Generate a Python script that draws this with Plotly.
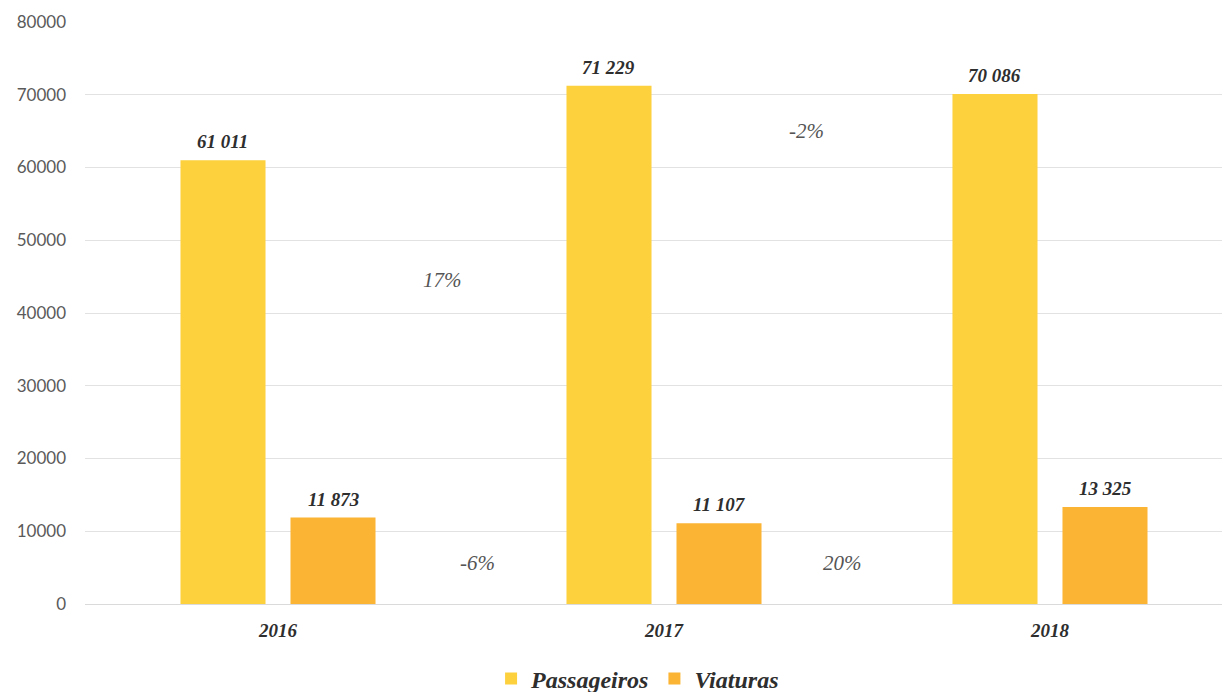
import plotly.graph_objects as go

years = ["2016", "2017", "2018"]
passageiros = [61011, 71229, 70086]
viaturas = [11873, 11107, 13325]
y_ticks = [0, 10000, 20000, 30000, 40000, 50000, 60000, 70000, 80000]

yellow = "#FDD03E"
orange = "#FBB434"
serif = "Liberation Serif"


def fmt(v):
    return f"{v:,}".replace(",", " ")


fig = go.Figure()
fig.add_trace(go.Bar(name="Passageiros", x=years, y=passageiros,
                     marker=dict(color=yellow, line=dict(width=0))))
fig.add_trace(go.Bar(name="Viaturas", x=years, y=viaturas,
                     marker=dict(color=orange, line=dict(width=0))))

# value labels above each bar
offsets = {"Passageiros": -0.1425, "Viaturas": 0.1425}
for name, vals in (("Passageiros", passageiros), ("Viaturas", viaturas)):
    for i, v in enumerate(vals):
        fig.add_annotation(x=i + offsets[name], y=v, text=fmt(v), showarrow=False,
                           yanchor="bottom", yshift=6,
                           font=dict(family=serif, size=19, color="#2E2E2E",
                                     weight="bold", style="italic"))

# year-over-year change labels
def pct(a, b):
    return f"{round((b / a - 1) * 100):d}%"

changes = [
    (0.427, 44500, pct(passageiros[0], passageiros[1])),
    (0.518, 5650, pct(viaturas[0], viaturas[1])),
    (1.370, 65000, pct(passageiros[1], passageiros[2])),
    (1.463, 5650, pct(viaturas[1], viaturas[2])),
]
for x, y, t in changes:
    fig.add_annotation(x=x, y=y, text=t, showarrow=False,
                       font=dict(family=serif, size=21, color="#555555",
                                 style="italic"))

fig.update_layout(
    width=1222, height=692,
    margin=dict(l=85, r=0, t=22, b=88),
    paper_bgcolor="white", plot_bgcolor="white",
    barmode="group", bargap=0.43, bargroupgap=0.227,
    showlegend=True,
    legend=dict(orientation="h", x=0.486, xanchor="center",
                yref="container", y=0.019, yanchor="middle",
                font=dict(family=serif, size=24, color="#2E2E2E",
                          weight="bold", style="italic")),
    xaxis=dict(type="category", range=[-0.5, 2.4456], showgrid=False,
               showline=False, ticks="", ticklabelstandoff=13,
               tickfont=dict(family=serif, size=19, color="#2E2E2E",
                             weight="bold", style="italic")),
    yaxis=dict(range=[0, 80000], tickvals=y_ticks,
               ticktext=[str(v) for v in y_ticks],
               showgrid=True, gridcolor="#E2E2E2", gridwidth=1,
               zeroline=True, zerolinecolor="#DADADA", zerolinewidth=1,
               showline=False, ticks="", ticklabelstandoff=18,
               tickfont=dict(family="Lato", size=17, color="#5A5A5A")),
)

fig.write_html("out.html")
